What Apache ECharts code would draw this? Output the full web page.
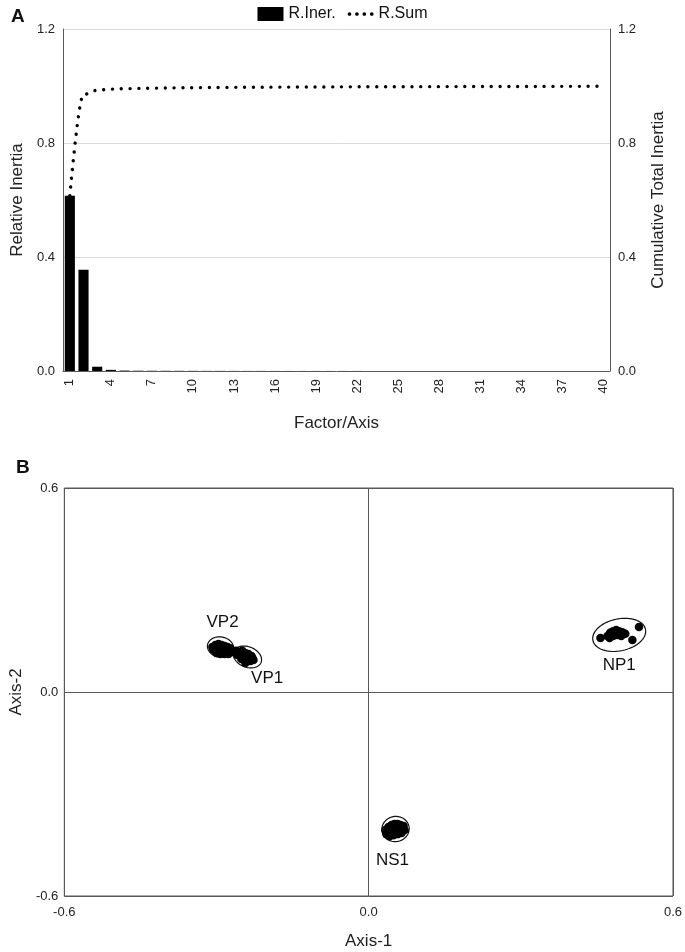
<!DOCTYPE html>
<html><head><meta charset="utf-8">
<script src="https://cdn.jsdelivr.net/npm/echarts@6/dist/echarts.min.js"></script>
<style>html,body{margin:0;padding:0;background:#fff}#c{width:685px;height:952px}</style>
</head><body><div id="c"></div>
<script>
// ---- Panel A data ----
const factors = Array.from({length: 40}, (_, i) => String(i + 1));
const relInertia = [0.615, 0.355, 0.015, 0.004, 0.0015, 0.001, 0.0008, 0.0007, 0.0006, 0.0005,
  0.0004, 0.0004, 0.0003, 0.0003, 0.0003, 0.0002, 0.0002, 0.0002, 0.0002, 0.0002,
  0.0002, 0.0002, 0.0001, 0.0001, 0.0001, 0.0001, 0.0001, 0.0001, 0.0001, 0.0001,
  0.0001, 0.0001, 0.0001, 0.0001, 0.0001, 0.0001, 0.0001, 0.0001, 0.0001, 0.0001];
const cumInertia = [0.615, 0.970, 0.985, 0.989, 0.9905, 0.9915, 0.9923, 0.993, 0.9936, 0.9941,
  0.9945, 0.9949, 0.9952, 0.9955, 0.9958, 0.996, 0.9962, 0.9964, 0.9966, 0.9968,
  0.997, 0.9972, 0.9973, 0.9974, 0.9975, 0.9976, 0.9977, 0.9978, 0.9979, 0.998,
  0.9981, 0.9982, 0.9983, 0.9984, 0.9985, 0.9986, 0.9987, 0.9988, 0.9989, 0.999];

// ---- Panel B data ----
const vp2 = [[-0.308,0.132],[-0.302,0.138],[-0.296,0.141],[-0.290,0.138],[-0.284,0.135],[-0.278,0.132],
  [-0.273,0.129],[-0.306,0.124],[-0.298,0.124],[-0.290,0.124],[-0.282,0.121],[-0.275,0.121],[-0.269,0.118],
  [-0.300,0.115],[-0.292,0.112],[-0.284,0.112],[-0.276,0.112],[-0.294,0.129],[-0.286,0.126],[-0.280,0.118]];
const vp1 = [[-0.261,0.121],[-0.255,0.118],[-0.249,0.121],[-0.243,0.115],[-0.237,0.112],[-0.259,0.109],
  [-0.253,0.106],[-0.247,0.106],[-0.241,0.103],[-0.235,0.100],[-0.229,0.100],[-0.251,0.097],[-0.245,0.094],
  [-0.239,0.091],[-0.233,0.091],[-0.227,0.094],[-0.243,0.085],[-0.231,0.106]];
const np1 = [[0.471,0.165],[0.476,0.174],[0.482,0.179],[0.488,0.182],[0.494,0.179],[0.500,0.176],
  [0.506,0.171],[0.475,0.159],[0.482,0.165],[0.490,0.168],[0.498,0.165],[0.486,0.174],[0.494,0.171],
  [0.478,0.171],[0.457,0.159],[0.533,0.191],[0.520,0.153]];
const ns1 = [[0.033,-0.406],[0.039,-0.397],[0.045,-0.391],[0.051,-0.388],[0.057,-0.388],[0.063,-0.391],
  [0.069,-0.394],[0.035,-0.418],[0.041,-0.412],[0.049,-0.406],[0.057,-0.403],[0.065,-0.403],[0.071,-0.406],
  [0.041,-0.424],[0.049,-0.421],[0.057,-0.418],[0.065,-0.415]];
// ellipses: [cx, cy, rx, ry, rotationDeg]
const ellipses = [[-0.292,0.132,0.026,0.030,10],[-0.239,0.103,0.029,0.030,22],
  [0.494,0.168,0.053,0.047,-12],[0.053,-0.403,0.027,0.037,-10]];
const groupLabels = [[-0.288,0.206,'VP2'],[-0.200,0.041,'VP1'],[0.494,0.079,'NP1'],[0.047,-0.494,'NS1']];

const FONT = 'Liberation Sans';
const dark = '#595959';
const chart = echarts.init(document.getElementById('c'));
const fmt1 = v => v.toFixed(1);
const dot = x => `M${x},1m-1,0a1,1 0 1,0 2,0a1,1 0 1,0 -2,0z`;
const dottedIcon = 'path://' + [1, 5, 9, 13].map(x => dot(x)).join(' ');

chart.setOption({
  animation: false,
  textStyle: {fontFamily: FONT},
  title: [
    {text: 'A', left: 6, top: 2, textStyle: {fontSize: 19, fontWeight: 'bold', color: '#111', fontFamily: FONT}},
    {text: 'B', left: 11, top: 453, textStyle: {fontSize: 19, fontWeight: 'bold', color: '#111', fontFamily: FONT}}
  ],
  legend: {
    top: 1, left: 'center', itemGap: 12,
    textStyle: {fontSize: 16, color: '#111', fontFamily: FONT},
    data: [
      {name: 'R.Iner.', icon: 'rect', itemStyle: {color: '#000'}},
      {name: 'R.Sum', icon: dottedIcon, itemStyle: {color: '#000'}}
    ],
    itemWidth: 26, itemHeight: 14
  },
  grid: [
    {left: 63, right: 75, top: 29, bottom: 581},
    {left: 63, right: 10, top: 488, bottom: 56, show: true, borderColor: dark, borderWidth: 1}
  ],
  xAxis: [
    {type: 'category', gridIndex: 0, data: factors, boundaryGap: true,
     axisLine: {lineStyle: {color: '#d9d9d9'}}, axisTick: {show: false},
     axisLabel: {interval: 2, rotate: 90, fontSize: 13, color: '#222', margin: 8},
     name: 'Factor/Axis', nameLocation: 'middle', nameGap: 44,
     nameTextStyle: {fontSize: 17, color: '#222'}},
    {type: 'category', gridIndex: 0, data: factors, position: 'top',
     axisLine: {lineStyle: {color: dark}}, axisTick: {show: false}, axisLabel: {show: false}},
    {type: 'value', gridIndex: 1, min: -0.6, max: 0.6, interval: 0.6,
     axisLine: {show: false}, axisTick: {show: false},
     splitLine: {show: true, lineStyle: {color: dark, width: 1}},
     axisLabel: {formatter: fmt1, fontSize: 13, color: '#222', margin: 10},
     name: 'Axis-1', nameLocation: 'middle', nameGap: 37,
     nameTextStyle: {fontSize: 17, color: '#222'}}
  ],
  yAxis: [
    {type: 'value', gridIndex: 0, min: 0, max: 1.2, interval: 0.4,
     axisLine: {show: true, lineStyle: {color: dark}}, axisTick: {show: false},
     splitLine: {show: true, lineStyle: {color: '#d9d9d9'}},
     axisLabel: {formatter: fmt1, fontSize: 13, color: '#222', margin: 8},
     name: 'Relative Inertia', nameLocation: 'middle', nameGap: 36,
     nameTextStyle: {fontSize: 17, color: '#222'}},
    {type: 'value', gridIndex: 0, min: 0, max: 1.2, interval: 0.4, position: 'right',
     axisLine: {show: true, lineStyle: {color: dark}}, axisTick: {show: false},
     splitLine: {show: false},
     axisLabel: {formatter: fmt1, fontSize: 13, color: '#222', margin: 8},
     name: 'Cumulative Total Inertia', nameLocation: 'middle', nameGap: 40,
     nameTextStyle: {fontSize: 17, color: '#222'}},
    {type: 'value', gridIndex: 1, min: -0.6, max: 0.6, interval: 0.6,
     axisLine: {show: false}, axisTick: {show: false},
     splitLine: {show: true, lineStyle: {color: dark, width: 1}},
     axisLabel: {formatter: fmt1, fontSize: 13, color: '#222', margin: 6},
     name: 'Axis-2', nameLocation: 'middle', nameGap: 38,
     nameTextStyle: {fontSize: 17, color: '#222'}}
  ],
  series: [
    {name: 'R.Iner.', type: 'bar', xAxisIndex: 0, yAxisIndex: 0, data: relInertia,
     barWidth: '74%', itemStyle: {color: '#000'}},
    {name: 'R.Sum', type: 'line', xAxisIndex: 0, yAxisIndex: 1, data: cumInertia,
     smooth: 0.35, smoothMonotone: 'x', showSymbol: false, symbol: 'none',
     itemStyle: {color: '#000'},
     lineStyle: {color: '#000', width: 3.4, type: [0.01, 8.8], cap: 'round'}},
    {type: 'custom', xAxisIndex: 2, yAxisIndex: 2, data: ellipses, silent: true, z: 3,
     renderItem: function (params, api) {
       const c = api.coord([api.value(0), api.value(1)]);
       const s = api.size([api.value(2), api.value(3)]);
       const rot = api.value(4) * Math.PI / 180;
       const pts = [];
       for (let k = 0; k < 72; k++) {
         const t = k / 72 * Math.PI * 2;
         const ex = s[0] * Math.cos(t), ey = s[1] * Math.sin(t);
         pts.push([c[0] + ex * Math.cos(rot) - ey * Math.sin(rot), c[1] + ex * Math.sin(rot) + ey * Math.cos(rot)]);
       }
       return {type: 'polygon', shape: {points: pts}, style: {fill: 'none', stroke: '#111', lineWidth: 1.2}};
     }},
    ...[vp2, vp1, np1, ns1].map(d => ({
      type: 'scatter', xAxisIndex: 2, yAxisIndex: 2, data: d, symbolSize: 8.5, z: 4,
      itemStyle: {color: '#000', opacity: 1}, silent: true})),
    {type: 'scatter', xAxisIndex: 2, yAxisIndex: 2, symbolSize: 1, silent: true, z: 5,
     itemStyle: {opacity: 0},
     data: groupLabels.map(l => ({value: [l[0], l[1]], name: l[2]})),
     label: {show: true, position: 'inside', formatter: p => p.name, fontSize: 17, color: '#111', opacity: 1, fontFamily: FONT}}
  ]
});
</script></body></html>
